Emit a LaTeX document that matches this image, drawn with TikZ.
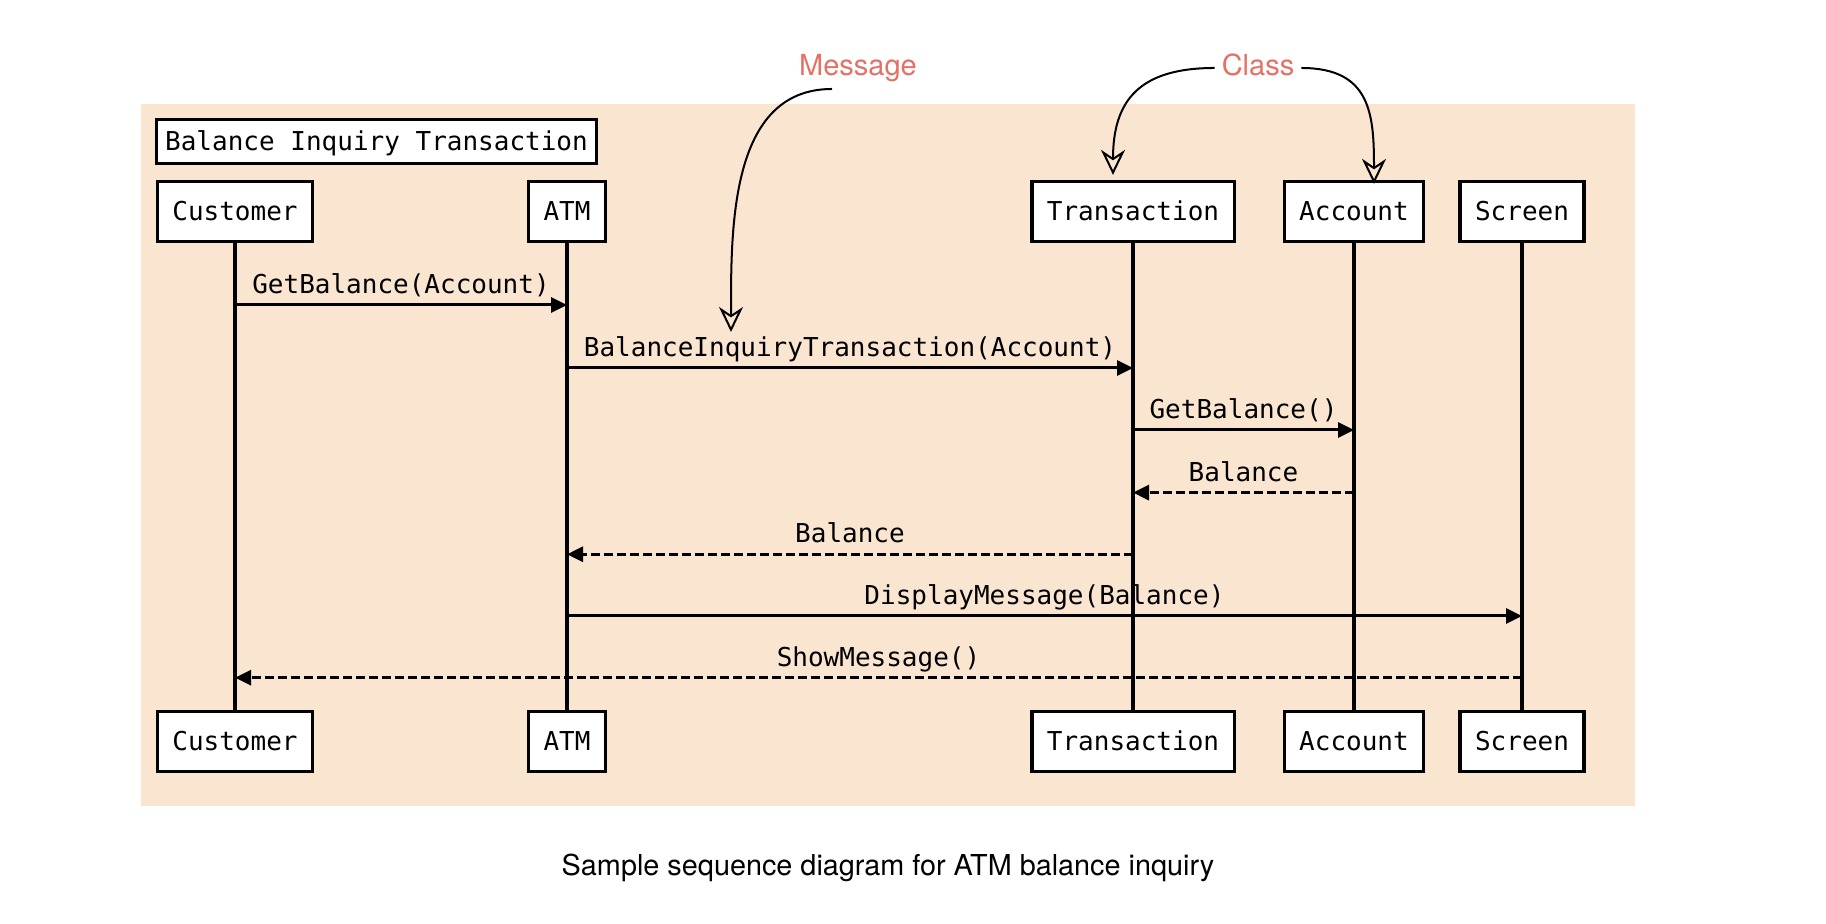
\documentclass[tikz,border=0pt]{standalone}
\usepackage{fontspec}
\setmainfont{TeX Gyre Heros}
\newfontfamily\seqmono{DejaVu Sans Mono}
\usetikzlibrary{arrows.meta,calc}
\definecolor{seqbg}{RGB}{250,229,208}
\definecolor{noteRed}{RGB}{229,112,102}

\begin{document}
\begin{tikzpicture}[x=0.5pt, y=0.5pt,
  obj/.style={draw, line width=1.6pt, fill=white, font=\seqmono\fontsize{13pt}{15pt}\selectfont, inner xsep=7.5pt, minimum height=30pt, text height=9.5pt, text depth=0pt},
  life/.style={line width=1.6pt},
  call/.style={line width=1.5pt, -{Triangle[length=8pt,width=7.5pt]}},
  reply/.style={call, dash pattern=on 4.5pt off 2pt},
  lbl/.style={above, font=\seqmono\fontsize{13pt}{15pt}\selectfont, inner sep=2pt, text height=9.5pt, text depth=3pt},
  note/.style={font=\fontsize{14.5pt}{17pt}\selectfont, text=noteRed, text height=10.5pt, text depth=3pt},
  pointer/.style={line width=1pt, -{Stealth[open, length=12.5pt, width=12pt, inset=4pt]}}]
  \useasboundingbox (0,0) rectangle (1826,924);
  % frame of the interaction
  \fill[seqbg] (141,118) rectangle (1635,820);
  \node[obj, minimum height=22pt, inner xsep=4.25pt] (title) at (376.5,782.5) {Balance Inquiry Transaction};
  % objects, top and bottom
  \node[obj] (custTop)  at (235,712.5)  {Customer};
  \node[obj] (atmTop)   at (567,712.5)  {ATM};
  \node[obj] (transTop) at (1133,712.5) {Transaction};
  \node[obj] (acctTop)  at (1354,712.5) {Account};
  \node[obj] (scrTop)   at (1522,712.5) {Screen};
  \node[obj] (custBot)  at (235,182.5)  {Customer};
  \node[obj] (atmBot)   at (567,182.5)  {ATM};
  \node[obj] (transBot) at (1133,182.5) {Transaction};
  \node[obj] (acctBot)  at (1354,182.5) {Account};
  \node[obj] (scrBot)   at (1522,182.5) {Screen};
  % lifelines
  \draw[life] (custTop) -- (custBot);
  \draw[life] (atmTop) -- (atmBot);
  \draw[life] (transTop) -- (transBot);
  \draw[life] (acctTop) -- (acctBot);
  \draw[life] (scrTop) -- (scrBot);
  % message rows
  \coordinate (m1) at (0,619);
  \coordinate (m2) at (0,556);
  \coordinate (m3) at (0,494);
  \coordinate (m4) at (0,431.4);
  \coordinate (m5) at (0,369.7);
  \coordinate (m6) at (0,308);
  \coordinate (m7) at (0,246.3);
  \draw[call]  (custTop |- m1) -- node[lbl] {GetBalance(Account)} (atmTop |- m1);
  \draw[call]  (atmTop |- m2) -- node[lbl] (bitLbl) {BalanceInquiryTransaction(Account)} (transTop |- m2);
  \draw[call]  (transTop |- m3) -- node[lbl] {GetBalance()} (acctTop |- m3);
  \draw[reply] (acctTop |- m4) -- node[lbl] {Balance} (transTop |- m4);
  \draw[reply] (transTop |- m5) -- node[lbl] {Balance} (atmTop |- m5);
  \draw[call]  (atmTop |- m6) -- node[lbl] {DisplayMessage(Balance)} (scrTop |- m6);
  \draw[reply] (scrTop |- m7) -- node[lbl] {ShowMessage()} (custTop |- m7);
  % callouts
  \node[note] (msgNote) at (858,856) {Message};
  \node[note] (clsNote) at (1258,856) {Class};
  \coordinate (msgTip) at (731,592);
  \draw[pointer] ($(msgNote.center)+(-26,-21)$) to[out=180,in=90] (msgTip);
  \draw[pointer] (clsNote.west) to[out=180,in=90,looseness=1.3] ($(transTop.north)+(-20,5)$);
  \draw[pointer] (clsNote.east) to[out=0,in=90,looseness=1.3] ($(acctTop.north)+(20,-4)$);
  % caption
  \node[font=\fontsize{14.4pt}{17pt}\selectfont] (caption) at (888,56) {Sample sequence diagram for ATM balance inquiry};
\end{tikzpicture}
\end{document}
